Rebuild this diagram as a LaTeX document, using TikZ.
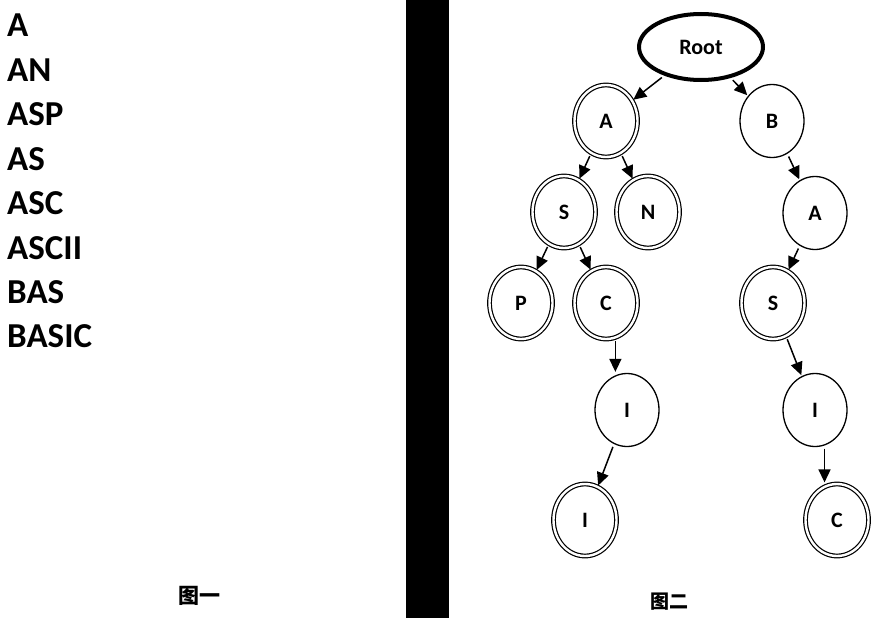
\documentclass[tikz,border=0pt]{standalone}
\usepackage{fontspec}
\setmainfont{Carlito}
\newfontfamily\cjk{Noto Sans CJK SC}
\usetikzlibrary{shapes.geometric,arrows.meta}
\tikzset{
	one/.style={ellipse, draw, line width=1.3pt, minimum width=64pt, minimum height=73pt, inner sep=0pt, font=\fontsize{22}{22}\selectfont\bfseries},
	two/.style={ellipse, draw, double, line width=1.2pt, double distance=2.4pt, minimum width=63pt, minimum height=72pt, inner sep=0pt, font=\fontsize{22}{22}\selectfont\bfseries},
	link/.style={line width=1.5pt, -{Triangle[length=13pt,width=12pt]}, shorten <=3pt, shorten >=1pt},
}

\begin{document}
\begin{tikzpicture}[x=1pt, y=-1pt]
		%%%%% START %%%%%
		\useasboundingbox (0, 0) rectangle (872, 618);
		
		\foreach \w [count=\i] in {A, AN, ASP, AS, ASC, ASCII, BAS, BASIC}
			\node[anchor=base west, inner sep=0pt, font=\fontsize{35}{35}\selectfont\bfseries] (w\i) at (7, {37 + (\i - 1) * 44.4}) {\w};
		\node[font=\fontsize{21}{21}\selectfont\cjk\bfseries] (fig1) at (199, 596) {图一};
		
		\fill[black] (406, 0) rectangle (449, 618);
		
		\node[ellipse, draw, line width=4pt, minimum width=124pt, minimum height=66pt, font=\fontsize{22}{22}\selectfont\bfseries] (root) at (701, 47) {Root};
		\node[two] (a) at (606, 121) {A};
		\node[one] (b) at (772, 121) {B};
		\node[two] (as) at (564, 212) {S};
		\node[two] (an) at (648, 212) {N};
		\node[one] (ba) at (815, 213) {A};
		\node[two] (asp) at (521, 303) {P};
		\node[two] (asc) at (606, 303) {C};
		\node[two] (bas) at (773, 303) {S};
		\node[one] (asci) at (627, 410) {I};
		\node[one] (basi) at (815, 410) {I};
		\node[two] (ascii) at (585, 520) {I};
		\node[two] (basic) at (837, 520) {C};
		
		\node[font=\fontsize{19}{19}\selectfont\cjk\bfseries] (fig2) at (669, 602) {图二};
		
		\draw[link] (root) -- (a);
		\draw[link] (root) -- (b);
		\draw[link] (a) -- (as);
		\draw[link] (a) -- (an);
		\draw[link] (as) -- (asp);
		\draw[link] (as) -- (asc);
		\draw[link] (asc.-75) -- (asc.-75 |- asci.north);
		\draw[link] (asci) -- (ascii);
		\draw[link] (b) -- (ba);
		\draw[link] (ba) -- (bas);
		\draw[link] (bas) -- (basi);
		\draw[link] (basi.-75) -- (basi.-75 |- basic.north);
		
		%%%%% END %%%%%
	\end{tikzpicture}
\end{document}
